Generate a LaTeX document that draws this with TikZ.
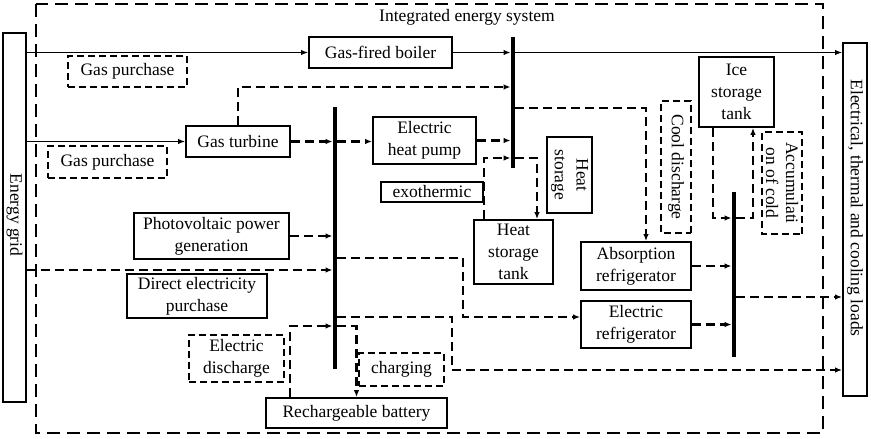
\documentclass[tikz,border=0pt]{standalone}
\usepackage{fontspec}
\setmainfont{Liberation Serif}
\usetikzlibrary{arrows.meta}
\begin{document}
\begin{tikzpicture}[x=1pt,y=-1pt,
  every node/.style={font=\fontsize{17.5}{21.7}\selectfont, inner sep=0pt, align=center},
  box/.style={draw, line width=1.8pt},
  dbox/.style={draw, line width=1.8pt, dash pattern=on 7pt off 4pt},
  bus/.style={fill=black, minimum width=4.5pt, draw=none},
  sl/.style={line width=1.3pt},
  dl/.style={line width=2.2pt, dash pattern=on 9pt off 5pt},
  arr/.style={-{Latex[length=7pt,width=5.5pt]}},
  frame/.style={line width=1.8pt, dash pattern=on 13pt off 7pt}
]
\useasboundingbox (0,0) rectangle (871,439);
\draw[frame] (36,4) rectangle (823,433);
\node (title) at (467,17) {Integrated energy system};

% side boxes
\node[box, minimum width=23pt, minimum height=369pt] (grid) at (14.5,217.5) {};
\node[rotate=-90] (gridtxt) at (14.5,215) {Energy grid};
\node[box, minimum width=24pt, minimum height=353pt] (loads) at (855,219.5) {};
\node[rotate=-90] (loadstxt) at (855,208) {Electrical, thermal and cooling loads};

% boxes
\node[box, minimum width=143pt, minimum height=31pt] (boiler) at (380.5,52.5) {Gas-fired boiler};
\node[dbox, minimum width=119pt, minimum height=31pt] (gp1) at (127.5,71.5) {Gas purchase};
\node[dbox, minimum width=119pt, minimum height=32pt] (gp2) at (107.5,162) {Gas purchase};
\node[box, minimum width=104pt, minimum height=31pt] (turbine) at (238,141.5) {Gas turbine};
\node[box, minimum width=103pt, minimum height=47pt] (ehp) at (424.5,140.5) {Electric\\heat pump};
\node[box, minimum width=102pt, minimum height=20pt] (exo) at (432,192) {exothermic};
\node[box, rotate=-90, minimum width=76pt, minimum height=45pt] (hs) at (569.5,175) {Heat\\storage};
\node[box, minimum width=79pt, minimum height=64pt] (tank) at (513.5,252) {Heat\\storage\\tank};
\node[box, minimum width=110pt, minimum height=48pt] (absorb) at (636,266) {Absorption\\refrigerator};
\node[box, minimum width=110pt, minimum height=47pt] (eref) at (636,324.5) {Electric\\refrigerator};
\node[dbox, rotate=-90, minimum width=132pt, minimum height=30pt] (cool) at (676,167) {Cool discharge};
\node[box, minimum width=75pt, minimum height=70pt] (ice) at (736.5,92) {Ice\\storage\\tank};
\node[dbox, rotate=-90, minimum width=102pt, minimum height=40pt, font=\fontsize{17.5}{20}\selectfont] (accum) at (782,183) {Accumulati\\on of cold};
\node[box, minimum width=155pt, minimum height=46pt] (pv) at (211.5,236) {Photovoltaic power\\generation};
\node[box, minimum width=140pt, minimum height=44pt] (dep) at (197,296) {Direct electricity\\purchase};
\node[dbox, minimum width=95pt, minimum height=47pt] (ed) at (236.5,358.5) {Electric\\discharge};
\node[box, minimum width=181pt, minimum height=30pt] (batt) at (356.5,413) {Rechargeable battery};
\node[dbox, minimum width=85pt, minimum height=33pt] (chg) at (401.5,369.5) {charging};

% buses
\node[bus, minimum height=131pt] (tbus) at (513,102.5) {};
\node[bus, minimum height=262pt] (ebus) at (335,238) {};
\node[bus, minimum height=165pt] (cbus) at (734,274.5) {};

% levels and attachment points
\coordinate (L87) at (0,87);
\coordinate (L108) at (0,108);
\coordinate (L158) at (0,158);
\coordinate (L218) at (0,218);
\coordinate (L258) at (0,258);
\coordinate (L270) at (0,270);
\coordinate (L297) at (0,297);
\coordinate (L317) at (0,317);
\coordinate (L326) at (0,326);
\coordinate (c463) at (463,317);
\coordinate (c452) at (452,370);
\coordinate (tankL) at ([xshift=11pt]tank.north west);
\coordinate (tankR) at ([xshift=23.5pt]tank.north);
\coordinate (iceL) at ([xshift=-23.5pt]ice.south);
\coordinate (iceR) at ([xshift=16.5pt]ice.south);
\coordinate (absT) at ([xshift=10pt]absorb.north);
\coordinate (battL) at ([xshift=-66.5pt]batt.north);

% solid connectors
\draw[sl,arr] (grid.east |- boiler.west) -- (boiler.west);
\draw[sl,arr] (boiler.east) -- (boiler.east -| tbus.west);
\draw[sl,arr] (boiler.east -| tbus.east) -- (boiler.east -| loads.west);
\draw[sl,arr] (grid.east |- turbine.west) -- (turbine.west);

% dashed connectors
\draw[dl,arr] (turbine.north) |- (tbus.west |- L87);
\draw[dl,arr] (turbine.east) -- (turbine.east -| ebus.west);
\draw[dl,arr] (turbine.east -| ebus.east) -- (ehp.west |- turbine.east);
\draw[dl,arr] (ehp.east) -- (ehp.east -| tbus.west);
\draw[dl,arr] (tankL) |- (tbus.west |- L158);
\draw[dl,arr] (tbus.east |- L158) -| (tankR);
\draw[dl,arr] (tbus.east |- L108) -| (absT);
\draw[dl,arr] (absorb.east) -- (absorb.east -| cbus.west);
\draw[dl,arr] (eref.east) -- (eref.east -| cbus.west);
\draw[dl,arr] (cbus.east |- L297) -- (loads.west |- L297);
\draw[dl,arr] (iceL) |- (cbus.west |- L218);
\draw[dl,arr] (cbus.east |- L218) -| (iceR);
\draw[dl,arr] (pv.east) -- (pv.east -| ebus.west);
\draw[dl,arr] (grid.east |- L270) -- (ebus.west |- L270);
\draw[dl,arr] (ebus.east |- L258) -| (c463) -- (eref.west |- c463);
\draw[dl,arr] (ebus.east |- L317) -| (c452) -- (loads.west |- c452);
\draw[dl,arr] (battL) |- (ebus.west |- L326);
\draw[dl,arr] (ebus.east |- L326) -| (batt.north);
\end{tikzpicture}
\end{document}
